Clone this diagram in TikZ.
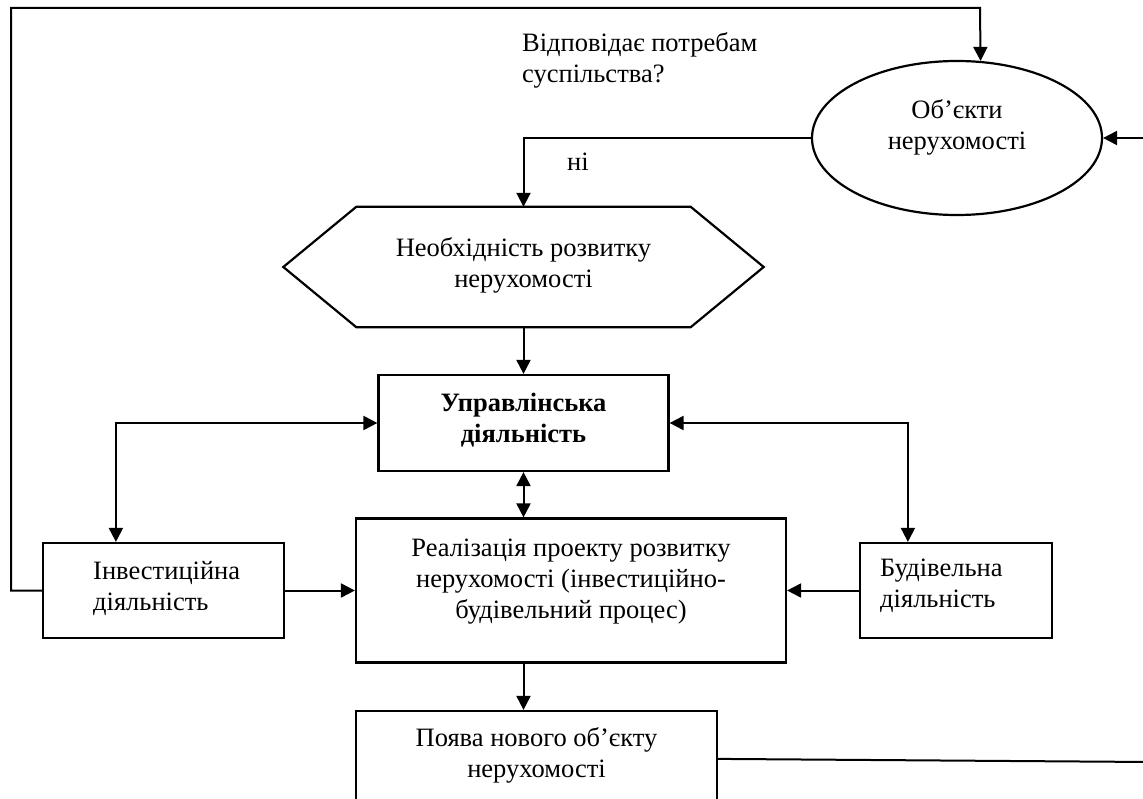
\documentclass[tikz,border=0pt]{standalone}
\usepackage{fontspec}
\setmainfont{Liberation Serif}
\usetikzlibrary{arrows.meta,calc,shapes.geometric}
\begin{document}
\begin{tikzpicture}[x=1pt,y=-1pt,
  shp/.style={draw,line width=2.2pt,inner sep=0pt},
  ghost/.style={inner sep=0pt},
  txt/.style={font=\fontsize{26.5}{31}\selectfont,align=center,inner sep=0pt},
  conn/.style={line width=2pt},
  arr/.style={conn,-{Triangle[length=14pt,width=14pt]}},
  darr/.style={conn,{Triangle[length=14pt,width=14pt]}-{Triangle[length=14pt,width=14pt]}}]
\clip (0,0) rectangle (1143,799);
\fill[white] (0,0) rectangle (1143,799);

% shapes
\node[shp,ellipse,minimum width=290pt,minimum height=154pt] (ell) at (957,138) {};
\node[ghost,minimum width=480pt,minimum height=120pt] (hex) at (523.5,267) {};
\draw[shp] ($(hex.north west)+(73,0)$) -- ($(hex.north east)+(-73,0)$) -- (hex.east)
  -- ($(hex.south east)+(-73,0)$) -- ($(hex.south west)+(73,0)$) -- (hex.west) -- cycle;
\node[shp,rectangle,minimum width=290pt,minimum height=96pt] (upr) at (523.5,423) {};
\node[shp,rectangle,minimum width=430pt,minimum height=144pt] (real) at (571,590.5) {};
\node[shp,rectangle,minimum width=241pt,minimum height=95pt] (inv) at (163.5,590.5) {};
\node[shp,rectangle,minimum width=192pt,minimum height=95pt] (bud) at (956,590.5) {};
\node[shp,rectangle,minimum width=361pt,minimum height=130pt] (poj) at (536.5,776) {};

% texts
\node[txt,anchor=west,align=left] (q) at (522,60) {Відповідає потребам\\суспільства?};
\node[txt] (ni) at (578,162) {ні};
\node[txt] (tell) at (957,127) {Об’єкти\\нерухомості};
\node[txt] (thex) at (523.5,265) {Необхідність розвитку\\нерухомості};
\node[txt,font=\fontsize{26.5}{31}\selectfont\bfseries] (tupr) at (523.5,420) {Управлінська\\діяльність};
\node[txt] (treal) at (571,582) {Реалізація проекту розвитку\\нерухомості (інвестиційно-\\будівельний процес)};
\node[txt,anchor=west,align=left] (tinv) at (93,588) {Інвестиційна\\діяльність};
\node[txt,anchor=west,align=left] (tbud) at (880,586) {Будівельна\\діяльність};
\node[txt] (tpoj) at (536.5,755) {Поява нового об’єкту\\нерухомості};

% helper coordinates
\coordinate (tl) at (11,8);
\coordinate (tr) at (980,8);
\coordinate (rin) at (1150,138);
\coordinate (rout) at (1150,762);

% connectors
\draw[arr] (inv.west) -| (tl) -- (tr) -- (ell.73);
\draw[arr] (rin) -- (ell.east);
\draw[arr] (ell.west) -| (hex.north);
\draw[arr] (hex.south) -- (upr.north);
\draw[darr] (upr.south) -- (upr.south |- real.north);
\draw[darr] (upr.west) -| ($(inv.north west)+(74,0)$);
\draw[darr] (upr.east) -| ($(bud.north west)+(49,0)$);
\draw[arr] (inv.east) -- (real.west);
\draw[arr] (bud.west) -- (real.east);
\draw[arr] (real.south -| upr.south) -- (upr.south |- poj.north);
\draw[conn] ($(poj.north east)+(0,49)$) -- (rout);
\end{tikzpicture}
\end{document}
